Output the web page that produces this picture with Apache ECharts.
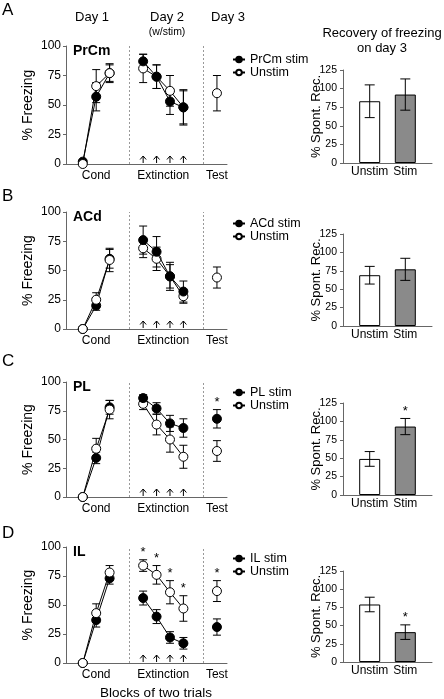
<!DOCTYPE html>
<html><head><meta charset="utf-8">
<script src="https://cdn.jsdelivr.net/npm/echarts@6/dist/echarts.min.js"></script>
<style>html,body{margin:0;padding:0;background:#fff}#c{width:444px;height:699px}</style>
</head><body><div id="c"></div>
<script>
// ---------- DATA ----------
const panelLetters = ['A', 'B', 'C', 'D'];
const regionNames = ['PrCm', 'ACd', 'PL', 'IL'];
// block order: Cond 1-3, Extinction 1-4, Test
const blockSlots = [2, 4, 6, 11, 13, 15, 17, 22];
const phaseLabels = { 4: 'Cond', 14: 'Extinction', 22: 'Test' };
const freezingTicks = [0, 25, 50, 75, 100];
const recoveryTicks = [0, 25, 50, 75, 100, 125];
const barCategories = ['', 'Unstim', '', 'Stim', ''];

const prcmStim      = [2, 57, 77, 87, 74, 53, 48, null];
const prcmStimErr   = [1, 12, 8, 6, 10, 11, 15, null];
const prcmUnstim    = [0, 66, 77, 81, 74, 62, 48, 60];
const prcmUnstimErr = [1, 14, 7, 12, 10, 13, 14, 15];

const acdStim      = [0, 20, 60, 76, 66, 45, 32, null];
const acdStimErr   = [0, 4, 8, 12, 13, 12, 9, null];
const acdUnstim    = [0, 25, 59, 69, 60, 45, 28, 44];
const acdUnstimErr = [0, 6, 10, 8, 10, 10, 6, 9];

const plStim      = [0, 34, 78, 86, 77, 64, 60, 68];
const plStimErr   = [0, 5, 6, 3, 5, 7, 8, 8];
const plUnstim    = [0, 42, 76, 81, 63, 50, 35, 40];
const plUnstimErr = [0, 9, 8, 5, 9, 11, 10, 9];

const ilStim      = [0, 37, 73, 56, 40, 22, 17, 31];
const ilStimErr   = [0, 6, 5, 6, 6, 5, 5, 7];
const ilUnstim    = [0, 43, 78, 84, 76, 61, 47, 62];
const ilUnstimErr = [0, 8, 6, 5, 8, 10, 11, 9];

// significance (block indices marked with *)
const stimSig   = [[], [], [7], []];
const unstimSig = [[], [], [], [3, 4, 5, 6, 7]];

// Recovery of freezing on day 3 (% Spont. Rec.)
const recUnstim    = [83, 69, 49, 79];
const recUnstimErr = [22, 12, 10, 10];
const recStim      = [92, 77, 93, 41];
const recStimErr   = [21, 15, 11, 10];
const recStimSig   = [0, 0, 1, 1];

// ---------- LAYOUT ----------
const FONT = '"Liberation Sans", Arial, Helvetica, sans-serif';
const AX = '#666';
const leftTops = [46, 212, 382, 547], leftHeights = [118, 117, 115, 116];
const barTops = [70, 234, 403, 571], barHeights = [93, 92, 92, 91];
const legendTops = [48, 212, 381, 547];
const letterTops = [10, 196, 361, 533];

const stimVals = [prcmStim, acdStim, plStim, ilStim];
const stimErrs = [prcmStimErr, acdStimErr, plStimErr, ilStimErr];
const unVals = [prcmUnstim, acdUnstim, plUnstim, ilUnstim];
const unErrs = [prcmUnstimErr, acdUnstimErr, plUnstimErr, ilUnstimErr];
const groups = [[0, 1, 2], [3, 4, 5, 6], [7]];
const slotNames = Array.from({ length: 24 }, (_, i) => 's' + i);

function errRender(half) {
  return function (params, api) {
    const x = api.value(0), y = api.value(1), e = api.value(2), s = api.value(3);
    const t = api.coord([x, y + e]), b = api.coord([x, y - e]);
    const st = { stroke: '#000', lineWidth: 1 };
    const ch = [
      { type: 'line', shape: { x1: t[0], y1: t[1], x2: b[0], y2: b[1] }, style: st },
      { type: 'line', shape: { x1: t[0] - half, y1: t[1], x2: t[0] + half, y2: t[1] }, style: st },
      { type: 'line', shape: { x1: b[0] - half, y1: b[1], x2: b[0] + half, y2: b[1] }, style: st }
    ];
    if (s) ch.push({ type: 'text', style: { text: '*', x: t[0], y: t[1] - 1, align: 'center', textAlign: 'center', verticalAlign: 'bottom', textVerticalAlign: 'bottom', fontSize: 13, fontFamily: FONT, fill: '#000' } });
    return { type: 'group', children: ch };
  };
}
function arrowRender(params, api) {
  const p = api.coord([api.value(0), 0]);
  const st = { stroke: '#000', lineWidth: 1, fill: null };
  return { type: 'group', children: [
    { type: 'line', shape: { x1: p[0], y1: p[1] - 1, x2: p[0], y2: p[1] - 8 }, style: st },
    { type: 'polyline', shape: { points: [[p[0] - 3, p[1] - 4.5], [p[0], p[1] - 8], [p[0] + 3, p[1] - 4.5]] }, style: st }
  ] };
}

const grids = [], xAxes = [], yAxes = [], series = [], legends = [], graphics = [];
const lineBase = { type: 'line', symbol: 'circle', symbolSize: 9, animation: false, lineStyle: { color: '#000', width: 1 }, emphasis: { disabled: true } };
const filledStyle = { color: '#000', borderColor: '#000', borderWidth: 1 };
const openStyle = { color: '#fff', borderColor: '#000', borderWidth: 1 };

for (let k = 0; k < 4; k++) {
  grids.push({ left: 66, width: 161, top: leftTops[k], height: leftHeights[k] });
  xAxes.push({ gridIndex: k, type: 'category', data: slotNames, boundaryGap: true,
    axisTick: { show: false }, axisLine: { lineStyle: { color: AX } },
    axisLabel: { interval: 0, fontSize: 12, color: '#000', fontFamily: FONT, margin: 6, formatter: (v, i) => phaseLabels[i] || '' } });
  yAxes.push({ gridIndex: k, type: 'value', min: freezingTicks[0], max: freezingTicks[freezingTicks.length - 1], interval: 25,
    splitLine: { show: false }, axisLine: { show: true, lineStyle: { color: AX } },
    axisTick: { show: true, length: 3, lineStyle: { color: AX } },
    axisLabel: { fontSize: 12, color: '#000', fontFamily: FONT, margin: 5 },
    name: '% Freezing', nameLocation: 'middle', nameGap: 31, nameTextStyle: { fontSize: 14, color: '#000', fontFamily: FONT } });

  const stimName = regionNames[k] + ' stim';
  const mk = (vals, idxs) => idxs.filter(i => vals[i] != null).map(i => [blockSlots[i], vals[i]]);
  const errData = (vals, errs, sig) => vals.map((v, i) => v == null ? null : [blockSlots[i], v, errs[i], sig.includes(i) ? 1 : 0]).filter(Boolean);

  series.push({ type: 'custom', xAxisIndex: k, yAxisIndex: k, z: 1, animation: false, silent: true, renderItem: errRender(4), data: errData(stimVals[k], stimErrs[k], stimSig[k]) });
  series.push({ type: 'custom', xAxisIndex: k, yAxisIndex: k, z: 1, animation: false, silent: true, renderItem: errRender(4), data: errData(unVals[k], unErrs[k], unstimSig[k]) });
  series.push({ type: 'custom', xAxisIndex: k, yAxisIndex: k, z: 1, animation: false, silent: true, renderItem: arrowRender, data: blockSlots.slice(3, 7).map(s => [s, 0]) });
  series.push(Object.assign({}, lineBase, { name: stimName, xAxisIndex: k, yAxisIndex: k, z: 3, itemStyle: filledStyle, data: mk(stimVals[k], groups[0]) }));
  series.push(Object.assign({}, lineBase, { name: 'Unstim', xAxisIndex: k, yAxisIndex: k, z: 4, itemStyle: openStyle, data: mk(unVals[k], groups[0]) }));
  series.push(Object.assign({}, lineBase, { name: 'Unstim', xAxisIndex: k, yAxisIndex: k, z: 3, itemStyle: openStyle, data: mk(unVals[k], groups[1]),
    markLine: { silent: true, symbol: 'none', animation: false, label: { show: false }, lineStyle: { type: [2, 2], color: '#999', width: 1 }, data: [{ xAxis: 9 }, { xAxis: 20 }] } }));
  series.push(Object.assign({}, lineBase, { name: stimName, xAxisIndex: k, yAxisIndex: k, z: 4, itemStyle: filledStyle, data: mk(stimVals[k], groups[1]) }));
  series.push(Object.assign({}, lineBase, { name: stimName, xAxisIndex: k, yAxisIndex: k, z: 4, itemStyle: filledStyle, data: mk(stimVals[k], groups[2]) }));
  series.push(Object.assign({}, lineBase, { name: 'Unstim', xAxisIndex: k, yAxisIndex: k, z: 4, itemStyle: openStyle, data: mk(unVals[k], groups[2]) }));

  legends.push({ orient: 'vertical', left: 227, top: legendTops[k], data: [stimName, 'Unstim'], itemWidth: 12, itemHeight: 7, itemGap: 0, selectedMode: false,
    textStyle: { fontSize: 12.5, color: '#000', fontFamily: FONT } });

  graphics.push({ type: 'text', x: 2, y: letterTops[k], style: { text: panelLetters[k], font: '17px ' + FONT, fill: '#000', align: 'left', textAlign: 'left', verticalAlign: 'middle', textVerticalAlign: 'middle' } });
  graphics.push({ type: 'text', x: 73, y: leftTops[k] + 5, style: { text: regionNames[k], font: 'bold 14px ' + FONT, fill: '#000', align: 'left', textAlign: 'left', verticalAlign: 'middle', textVerticalAlign: 'middle' } });
}

for (let k = 0; k < 4; k++) {
  const gi = 4 + k;
  grids.push({ left: 343, width: 89, top: barTops[k], height: barHeights[k] });
  xAxes.push({ gridIndex: gi, type: 'category', data: barCategories, boundaryGap: true,
    axisTick: { show: false }, axisLine: { lineStyle: { color: AX } },
    axisLabel: { interval: 0, fontSize: 12, color: '#000', fontFamily: FONT, margin: 3 } });
  yAxes.push({ gridIndex: gi, type: 'value', min: recoveryTicks[0], max: recoveryTicks[recoveryTicks.length - 1], interval: 25,
    splitLine: { show: false }, axisLine: { show: true, lineStyle: { color: AX } },
    axisTick: { show: true, length: 3, lineStyle: { color: AX } },
    axisLabel: { show: true, fontSize: 10.5, color: '#000', fontFamily: FONT, margin: 6, hideOverlap: false } });
  graphics.push({ type: 'text', x: 316, y: barTops[k] + barHeights[k] / 2, rotation: Math.PI / 2,
    style: { text: '% Spont. Rec.', font: '13px ' + FONT, fill: '#000', align: 'center', textAlign: 'center', verticalAlign: 'middle', textVerticalAlign: 'middle' } });
  const barVals = { Unstim: recUnstim[k], Stim: recStim[k] };
  const barErr = { Unstim: recUnstimErr[k], Stim: recStimErr[k] };
  const barSig = { Unstim: 0, Stim: recStimSig[k] };
  const barColor = { Unstim: '#fff', Stim: '#8a8a8a' };
  series.push({ type: 'bar', xAxisIndex: gi, yAxisIndex: gi, barWidth: 21, animation: false, silent: true, z: 2,
    data: barCategories.map(c => c ? { value: barVals[c], itemStyle: { color: barColor[c], borderColor: '#000', borderWidth: 1 } } : '-') });
  series.push({ type: 'custom', xAxisIndex: gi, yAxisIndex: gi, z: 5, animation: false, silent: true, renderItem: errRender(5),
    data: barCategories.map((c, i) => c ? [i, barVals[c], barErr[c], barSig[c]] : null).filter(Boolean) });
}

const txt = (x, y, text, size, extra) => ({ type: 'text', x, y, style: Object.assign({ text, font: size + 'px ' + FONT, fill: '#000', align: 'center', textAlign: 'center', verticalAlign: 'middle', textVerticalAlign: 'middle' }, extra || {}) });
graphics.push(txt(92, 17, 'Day 1', 13));
graphics.push(txt(167, 17, 'Day 2', 13));
graphics.push(txt(167, 32, '(w/stim)', 10.5));
graphics.push(txt(228, 17, 'Day 3', 13));
graphics.push(txt(382, 33, 'Recovery of freezing', 13));
graphics.push(txt(382, 48, 'on day 3', 13));
graphics.push(txt(156, 693, 'Blocks of two trials', 13.5));

const chart = echarts.init(document.getElementById('c'), null, { renderer: 'canvas' });
chart.setOption({
  animation: false,
  backgroundColor: '#fff',
  textStyle: { fontFamily: FONT },
  grid: grids, xAxis: xAxes, yAxis: yAxes, series, legend: legends, graphic: graphics
});
</script></body></html>
